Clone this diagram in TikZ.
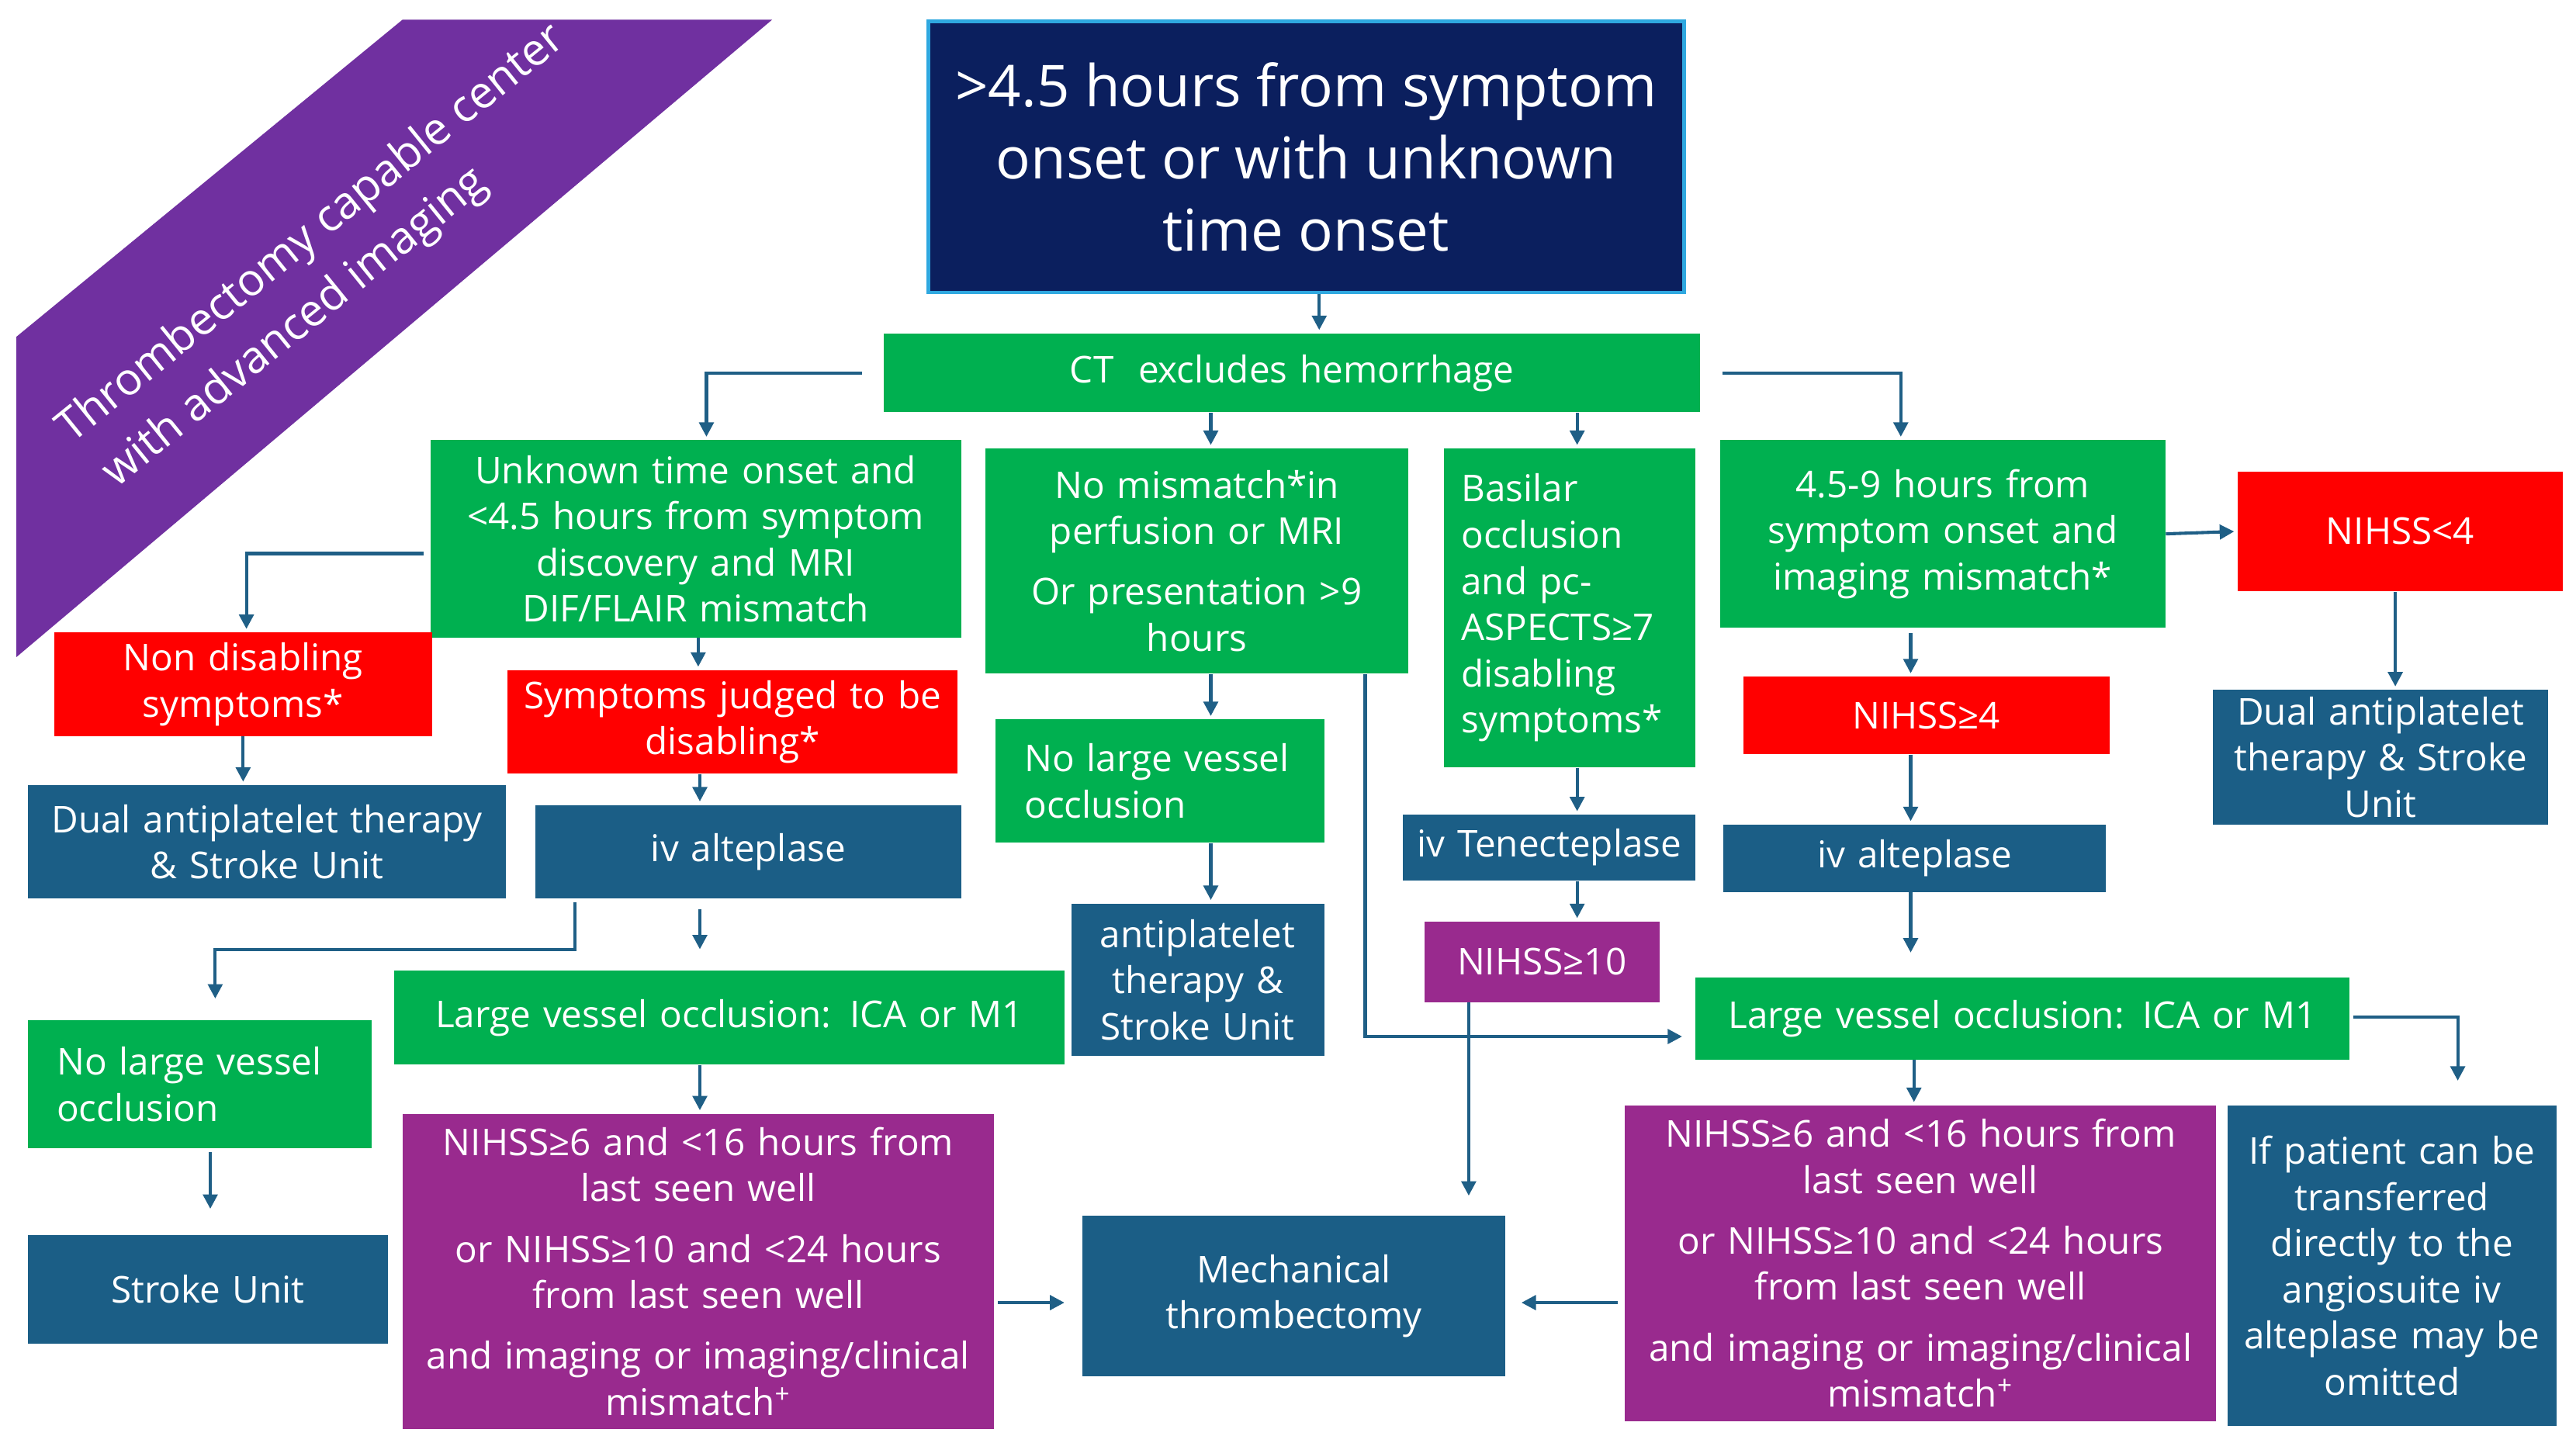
\documentclass[tikz,border=0pt]{standalone}
\usepackage{fontspec}
\setmainfont{Open Sans}
\usetikzlibrary{arrows.meta,calc}
\definecolor{navy}{HTML}{0B1F5E}
\definecolor{lblue}{HTML}{2FA8E0}
\definecolor{grn}{HTML}{00B050}
\definecolor{rd}{HTML}{FF0000}
\definecolor{tl}{HTML}{1B5E86}
\definecolor{pur}{HTML}{992A8E}
\definecolor{band}{HTML}{7030A0}
\definecolor{ln}{HTML}{1F5F86}
\tikzset{
 bx/.style={inner sep=1pt,text=white,font=\fontsize{12.8}{16}\selectfont,align=center},
 g/.style={bx,fill=grn}, r/.style={bx,fill=rd}, t/.style={bx,fill=tl}, p/.style={bx,fill=pur},
 arr/.style={draw=ln,line width=1.1pt,-{Triangle[length=5pt,width=5pt]},shorten >=1pt},
 bt/.style={text=white,font=\fontsize{15.5}{20}\selectfont,rotate=39}
}
\newcommand\bx[7]{\node[#6,minimum width={(#4-#2)*0.02cm},minimum height={(#5-#3)*0.02cm},text width={(#4-#2)*0.02cm-4pt}] (#1) at ({(#2+#4)/2},{(#3+#5)/2}) {#7};}
\begin{document}
\begin{tikzpicture}[x=0.02cm,y=-0.02cm]
\useasboundingbox (0,0) rectangle (1568,878);
\fill[white] (0,0) rectangle (1568,878);
\fill[band] (10,205) -- (245,12) -- (470,12) -- (10,400) -- cycle;
\node[bt] (bt1) at (190,143) {Thrombectomy capable center};
\node[bt] (bt2) at (180,200) {with advanced imaging};
\node[draw=lblue,line width=1.2pt,fill=navy,text=white,font=\fontsize{20}{25}\selectfont,align=center,minimum width={460*0.02cm},minimum height={165*0.02cm}] (title) at (795,95.5) {>4.5 hours from symptom\\onset or with unknown\\time onset};
\bx{ct}{538}{203}{1035}{251}{g}{CT\ \ excludes hemorrhage}
\bx{a}{262}{268}{585}{388}{g}{Unknown time onset and\\<4.5 hours from symptom\\discovery and MRI\\DIF/FLAIR mismatch}
\bx{b}{600}{273}{857}{410}{g}{No mismatch*in\\perfusion or MRI\\[5pt]Or presentation >9\\hours}
\bx{c}{879}{273}{1032}{467}{g,align=left}{\hspace*{4pt}Basilar\\\hspace*{4pt}occlusion\\\hspace*{4pt}and pc-\\\hspace*{4pt}ASPECTS≥7\\\hspace*{4pt}disabling\\\hspace*{4pt}symptoms*}
\bx{d}{1047}{268}{1318}{382}{g}{4.5-9 hours from\\symptom onset and\\imaging mismatch*}
\bx{n4}{1362}{287}{1560}{360}{r}{NIHSS<4}
\bx{dual2}{1347}{420}{1551}{502}{t}{Dual antiplatelet\\therapy \& Stroke\\Unit}
\bx{nd}{33}{385}{263}{448}{r}{Non disabling\\symptoms*}
\bx{dual1}{17}{478}{308}{547}{t}{Dual antiplatelet therapy\\\& Stroke Unit}
\bx{sd}{309}{408}{583}{471}{r}{Symptoms judged to be\\disabling*}
\bx{iva}{326}{490}{585}{547}{t}{iv alteplase}
\bx{nlv1}{17}{621}{226}{699}{g,align=left}{\hspace*{8pt}No large vessel\\\hspace*{8pt}occlusion}
\bx{su}{17}{752}{236}{818}{t}{Stroke Unit}
\bx{lvo1}{240}{591}{648}{648}{g}{Large vessel occlusion: ICA or M1}
\bx{p1}{245}{678}{605}{870}{p}{NIHSS≥6 and <16 hours from\\last seen well\\[5pt]or NIHSS≥10 and <24 hours\\from last seen well\\[5pt]and imaging or imaging/clinical\\mismatch\textsuperscript{+}}
\bx{mt}{659}{740}{916}{838}{t}{Mechanical\\thrombectomy}
\bx{nlv2}{606}{438}{806}{513}{g,align=left}{\hspace*{8pt}No large vessel\\\hspace*{8pt}occlusion}
\bx{anti}{652}{550}{806}{643}{t}{antiplatelet\\therapy \&\\Stroke Unit}
\bx{tnk}{854}{496}{1032}{536}{t}{iv Tenecteplase}
\bx{n10}{867}{561}{1010}{610}{p}{NIHSS≥10}
\bx{nge4}{1061}{412}{1284}{459}{r}{NIHSS≥4}
\bx{ivb}{1049}{502}{1282}{543}{t}{iv alteplase}
\bx{lvo2}{1032}{595}{1430}{645}{g}{Large vessel occlusion: ICA or M1}
\bx{tr}{1356}{673}{1556}{868}{t}{If patient can be\\transferred\\directly to the\\angiosuite iv\\alteplase may be\\omitted}
\bx{p2}{989}{673}{1349}{865}{p}{NIHSS≥6 and <16 hours from\\last seen well\\[5pt]or NIHSS≥10 and <24 hours\\from last seen well\\[5pt]and imaging or imaging/clinical\\mismatch\textsuperscript{+}}
% connectors
\draw[arr] (title.south -| 803,0) -- (ct.north -| 803,0);
\draw[arr] ($(ct.west)+(-13,0)$) -| (a.north -| 430,0) ;
\draw[arr] ($(ct.east)+(13,0)$) -| (d.north -| 1157,0);
\draw[arr] (ct.south -| 737,0) -- (b.north -| 737,0);
\draw[arr] (ct.south -| 960,0) -- (c.north -| 960,0);
\draw[arr] (d.east) -- (n4.west);
\draw[arr] (n4.south -| 1458,0) -- (dual2.north -| 1458,0);
\draw[arr] ($(a.west)+(-4,9)$) -| (nd.north -| 150,0);
\draw[arr] (nd.south -| 148,0) -- (dual1.north -| 148,0);
\draw[arr] (a.south -| 425,0) -- (sd.north -| 425,0);
\draw[arr] (sd.south -| 426,0) -- (iva.north -| 426,0);
\draw[arr] ($(iva.south -| 350,0)+(0,2)$) -- (350,578) -| ($(nlv1.north -| 131,0)+(0,-11)$);
\draw[arr] ($(iva.south -| 426,0)+(0,6)$) -- ($(lvo1.north -| 426,0)+(0,-11)$);
\draw[arr] ($(nlv1.south -| 128,0)+(0,2)$) -- ($(su.north -| 128,0)+(0,-14)$);
\draw[arr] (lvo1.south -| 426,0) -- (p1.north -| 426,0);
\draw[arr] ($(p1.east |- 0,793)+(2,0)$) -- ($(mt.west |- 0,793)+(-9,0)$);
\draw[arr] (b.south -| 737,0) -- (nlv2.north -| 737,0);
\draw[arr] (nlv2.south -| 737,0) -- (anti.north -| 737,0);
\draw[arr] (b.south -| 831,0) -- (831,631) -- ($(lvo2.west |- 0,631)+(-6,0)$);
\draw[arr] (c.south -| 960,0) -- (tnk.north -| 960,0);
\draw[arr] (tnk.south -| 960,0) -- (n10.north -| 960,0);
\draw[arr] (n10.south -| 894,0) -- ($(mt.north -| 894,0)+(0,-10)$);
\draw[arr] ($(d.south -| 1163,0)+(0,3)$) -- (nge4.north -| 1163,0);
\draw[arr] (nge4.south -| 1163,0) -- (ivb.north -| 1163,0);
\draw[arr] (ivb.south -| 1163,0) -- ($(lvo2.north -| 1163,0)+(0,-13)$);
\draw[arr] ($(lvo2.east |- 0,619)+(2,0)$) -| ($(tr.north -| 1496,0)+(0,-13)$);
\draw[arr] (lvo2.south -| 1165,0) -- (p2.north -| 1165,0);
\draw[arr] ($(p2.west |- 0,793)+(-4,0)$) -- ($(mt.east |- 0,793)+(8,0)$);
\end{tikzpicture}
\end{document}
